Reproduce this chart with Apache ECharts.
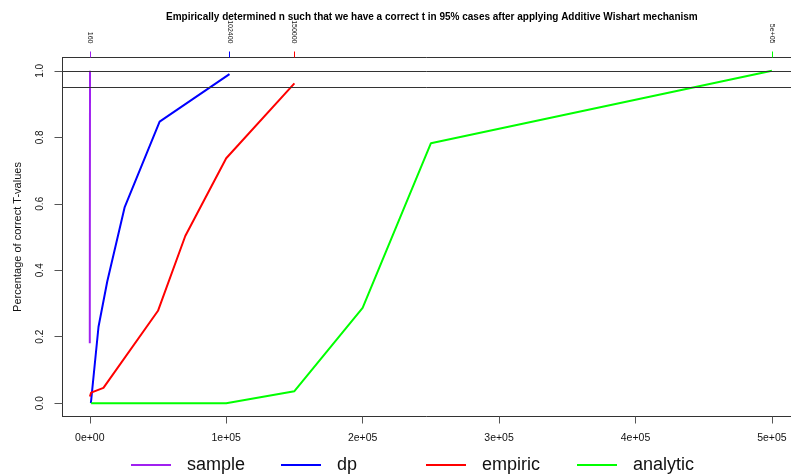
<!DOCTYPE html>
<html>
<head>
<meta charset="utf-8">
<script src="https://cdn.jsdelivr.net/npm/echarts@6/dist/echarts.min.js"></script>
<style>
  html, body { margin: 0; padding: 0; background: #ffffff; }
  #chart { width: 791px; height: 474px; }
</style>
</head>
<body>
<div id="chart"></div>
<script>
// Sample size n against the share of correct T-values, one line per method
var sampleN = [5, 20, 40, 80, 120, 160];
var sampleY = [0.18, 0.35, 0.5, 0.65, 0.78, 1.0];

var dpN = [800, 6400, 12800, 25600, 51200, 102400];
var dpY = [0.0, 0.23, 0.366, 0.59, 0.847, 0.99];

var empiricN = [100, 1000, 10000, 50000, 70000, 100000, 150000];
var empiricY = [0.02, 0.032, 0.046, 0.278, 0.503, 0.737, 0.962];

var analyticN = [1000, 100000, 150000, 200000, 250000, 500000];
var analyticY = [0.0, 0.0, 0.036, 0.287, 0.782, 1.0];

// Reference levels drawn as horizontal rules
var thresholds = [1.0, 0.95];

// Axis ticks
var xTicks = [0, 100000, 200000, 300000, 400000, 500000];
var yTicks = [0, 0.2, 0.4, 0.6, 0.8, 1.0];

// Top-axis markers: n at which each method first reaches the target
var topTickValues = [160, 102400, 150000, 500000];
var topTickLabels = ['160', '102400', '150000', '5e+05'];

var seriesNames = ['sample', 'dp', 'empiric', 'analytic'];
var seriesColors = ['#A020F0', '#0000FF', '#FF0000', '#00FF00'];
var seriesX = [sampleN, dpN, empiricN, analyticN];
var seriesY = [sampleY, dpY, empiricY, analyticY];

// The plotting region runs past the right edge of the canvas
var X_MIN = -20000, X_MAX = 514000;
var FONT = '"Liberation Sans", Arial, sans-serif';
var FRAME = { color: '#333', width: 1 };

function pairs(xs, ys) {
  return xs.map(function (x, i) { return [x, ys[i]]; });
}

function xLabel(v) {
  if (v === 0) return '0e+00';
  var e = Math.floor(Math.log10(v));
  var m = v / Math.pow(10, e);
  return m + 'e+' + (e < 10 ? '0' + e : e);
}

var xAxes = [{
  type: 'value',
  position: 'bottom',
  min: X_MIN,
  max: X_MAX,
  splitLine: { show: false },
  axisLine: { show: true, onZero: false, lineStyle: FRAME },
  axisTick: {
    show: true, length: 7, customValues: xTicks,
    lineStyle: { color: '#555', width: 1 }
  },
  axisLabel: {
    customValues: xTicks, margin: 16,
    fontFamily: FONT, fontSize: 10.5, color: '#111',
    formatter: xLabel
  }
}];

topTickValues.forEach(function (v, i) {
  xAxes.push({
    type: 'value',
    position: 'top',
    min: X_MIN,
    max: X_MAX,
    splitLine: { show: false },
    axisLine: { show: i === 0, onZero: false, lineStyle: FRAME },
    axisTick: {
      show: true, length: 6, customValues: [v],
      lineStyle: { color: seriesColors[i], width: 1 }
    },
    axisLabel: {
      customValues: [v], rotate: 90, margin: 14,
      fontFamily: FONT, fontSize: 7, color: '#222',
      formatter: function () { return topTickLabels[i]; }
    }
  });
});

var series = seriesNames.map(function (name, i) {
  var s = {
    name: name,
    type: 'line',
    xAxisIndex: 0,
    data: pairs(seriesX[i], seriesY[i]),
    showSymbol: false,
    symbol: 'none',
    lineStyle: { color: seriesColors[i], width: 2 },
    itemStyle: { color: seriesColors[i] },
    animation: false,
    z: 3
  };
  if (i === 0) {
    s.markLine = {
      silent: true,
      symbol: ['none', 'none'],
      label: { show: false },
      lineStyle: { color: '#333', width: 1, type: 'solid' },
      data: thresholds.map(function (t) { return { yAxis: t }; })
    };
  }
  return s;
});

// Legend entries sit at their own positions along the bottom
var legendLeft = [126, 276, 421, 572];
var legends = seriesNames.map(function (name, i) {
  return {
    data: [{ name: name, icon: 'rect' }],
    left: legendLeft[i],
    top: 451,
    itemWidth: 40,
    itemHeight: 2,
    itemGap: 0,
    selectedMode: false,
    textStyle: {
      fontFamily: FONT, fontSize: 18, color: '#111',
      padding: [0, 0, 0, 11]
    }
  };
});

var chart = echarts.init(document.getElementById('chart'), null, { renderer: 'canvas' });
chart.setOption({
  animation: false,
  backgroundColor: '#ffffff',
  title: {
    text: 'Empirically determined n such that we have a correct t in 95% cases after applying Additive Wishart mechanism',
    left: 161,
    top: 7,
    textStyle: { fontFamily: FONT, fontSize: 10, fontWeight: 'bold', color: '#000' }
  },
  legend: legends,
  grid: {
    left: 62.5,
    top: 57.5,
    width: 728.5,
    height: 359,
    show: false,
    containLabel: false
  },
  xAxis: xAxes,
  yAxis: {
    type: 'value',
    min: -0.04,
    max: 1.04,
    splitLine: { show: false },
    axisLine: { show: true, onZero: false, lineStyle: FRAME },
    axisTick: {
      show: true, length: 8, customValues: yTicks,
      lineStyle: { color: '#555', width: 1 }
    },
    axisLabel: {
      customValues: yTicks, rotate: 90, margin: 17,
      fontFamily: FONT, fontSize: 10, color: '#111',
      formatter: function (v) { return v.toFixed(1); }
    },
    name: 'Percentage of correct T-values',
    nameLocation: 'middle',
    nameRotate: 90,
    nameGap: 39,
    nameTextStyle: { fontFamily: FONT, fontSize: 11, color: '#111' }
  },
  series: series
});
</script>
</body>
</html>
